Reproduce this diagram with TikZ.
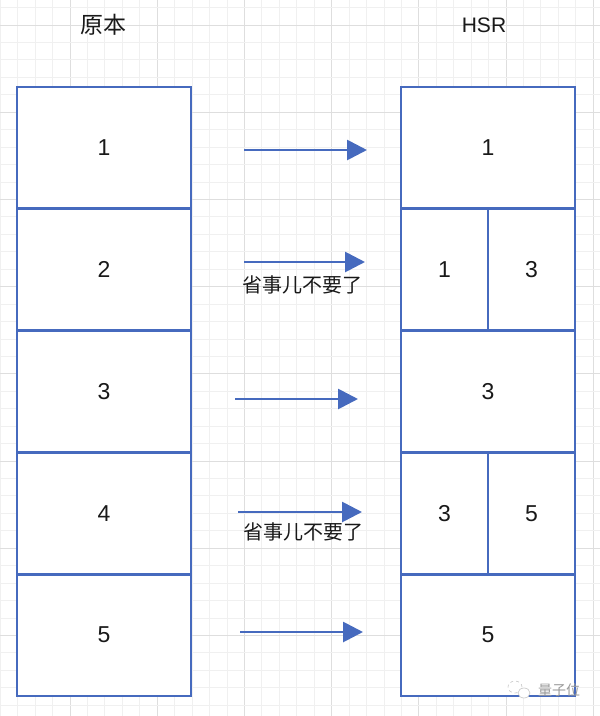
\documentclass[tikz,border=0pt]{standalone}
\usepackage{fontspec}
\setmainfont{Liberation Sans}
\newfontfamily\cjk{Noto Sans CJK SC}
\usepackage{tikz}
\usetikzlibrary{arrows.meta,positioning,calc}
\definecolor{boxblue}{RGB}{70,106,190}
\definecolor{gridmajor}{RGB}{222,222,222}
\definecolor{gridminor}{RGB}{240,240,240}
\tikzset{
  cell/.style = {rectangle, draw=boxblue, line width=2.8pt, fill=white, minimum width=174pt, minimum height=121.8pt, outer sep=0pt, inner sep=0pt, font=\fontsize{23}{23}\selectfont, text=black!90},
  halfcell/.style = {cell, minimum width=87pt},
  arrow/.style = {draw=boxblue, line width=2.8pt, -{Triangle[length=20pt,width=20pt]}},
  title/.style = {font=\fontsize{21}{21}\selectfont, text=black!90},
  note/.style = {font=\cjk\fontsize{20}{20}\selectfont, text=black!90, inner sep=0pt}
}
\begin{document}
\begin{tikzpicture}[x=1pt,y=-1pt]
\useasboundingbox (0,0) rectangle (600,716);
\fill[white] (0,0) rectangle (600,716);
% background grid
\foreach \i in {0,...,40} {
  \pgfmathtruncatemacro{\m}{mod(\i,5)}
  \ifnum\m=0 \def\gc{gridmajor}\else \def\gc{gridminor}\fi
  \draw[\gc, line width=0.8pt] ({-17.2+17.44*\i},0) -- ({-17.2+17.44*\i},716);
}
\foreach \i in {0,...,50} {
  \pgfmathtruncatemacro{\m}{mod(\i,5)}
  \ifnum\m=0 \def\gc{gridmajor}\else \def\gc{gridminor}\fi
  \draw[\gc, line width=0.8pt] (0,{-62.2+17.44*\i}) -- (600,{-62.2+17.44*\i});
}

% titles
\node[title, font=\cjk\fontsize{23}{23}\selectfont] (orig) at (103,25) {原本};
\node[title] (hsr) at (484,25) {HSR};

% original blocks
\node[cell] (o1) at (104,147.9) {1};
\node[cell, below=0pt of o1] (o2) {2};
\node[cell, below=0pt of o2] (o3) {3};
\node[cell, below=0pt of o3] (o4) {4};
\node[cell, below=0pt of o4] (o5) {5};

% HSR blocks
\node[cell] (h1) at (488,147.9) {1};
\node[halfcell, anchor=north west] (h2a) at (h1.south west) {1};
\node[halfcell, right=0pt of h2a] (h2b) {3};
\node[cell, below=0pt of h2a.south east] (h3) {3};
\node[halfcell, anchor=north west] (h4a) at (h3.south west) {3};
\node[halfcell, right=0pt of h4a] (h4b) {5};
\node[cell, below=0pt of h4a.south east] (h5) {5};

% arrows
\coordinate (s1) at (244,150); \coordinate (e1) at (367,150);
\coordinate (s2) at (244,262); \coordinate (e2) at (365,262);
\coordinate (s3) at (235,399); \coordinate (e3) at (358,399);
\coordinate (s4) at (238,512); \coordinate (e4) at (362,512);
\coordinate (s5) at (240,632); \coordinate (e5) at (363,632);
\foreach \k in {1,...,5}
  \draw[arrow] (s\k) -- (e\k);

\node[note] (skip2) at (302,285) {省事儿不要了};
\node[note] (skip4) at (303,532) {省事儿不要了};

% watermark
\draw[gray!45, line width=0.6pt, dashed] (515,687) ellipse (7pt and 6pt);
\draw[gray!45, line width=0.6pt, fill=white] (524,693) ellipse (6pt and 5pt);
\node[font=\cjk\fontsize{14}{14}\selectfont, text=gray!80, inner sep=0pt] (qbit) at (559,690) {量子位};
\end{tikzpicture}
\end{document}
